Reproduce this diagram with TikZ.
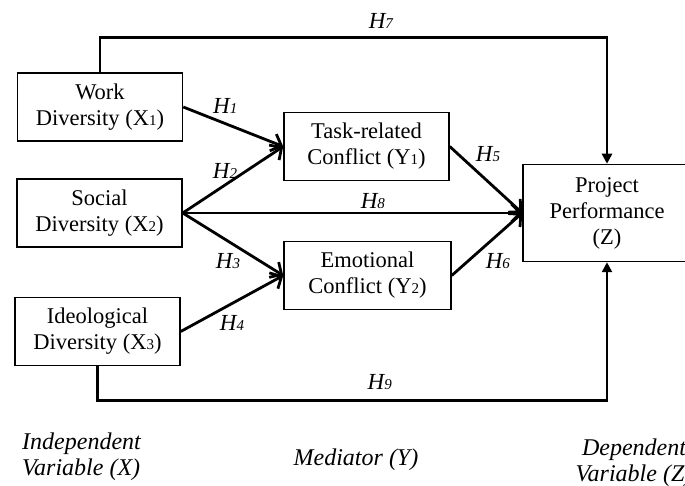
\documentclass[tikz,border=0pt]{standalone}
\usepackage{fontspec}
\setmainfont{Liberation Serif}
\usetikzlibrary{arrows.meta}
\tikzset{
	var/.style={draw, rectangle, line width=1.5pt, inner sep=2pt, align=center, minimum width=165pt, minimum height=68pt, font=\fontsize{22.5}{26}\selectfont},
	hyp/.style={font=\fontsize{23}{23}\selectfont\itshape, inner sep=3pt},
	% legend under the columns
	level/.style={font=\fontsize{24}{26}\selectfont\itshape, inner sep=0pt},
}
\newcommand{\dg}[1]{{\fontsize{15}{15}\selectfont #1}}

\begin{document}
\begin{tikzpicture}[x=1pt, y=-1pt]
\useasboundingbox (0,0) rectangle (685,486);

\node (x1) [var] at (100,107) {Work\\Diversity (X\dg{1})};
\node (x2) [var] at (99.5,213) {Social\\Diversity (X\dg{2})};
\node (x3) [var] at (97.5,331.5) {Ideological\\Diversity (X\dg{3})};

\node (y1) [var] at (366.5,146.5) {Task-related\\Conflict (Y\dg{1})};
\node (y2) [var, minimum width=167pt] at (367.5,275.5) {Emotional\\Conflict (Y\dg{2})};

\node (z) [var, minimum width=168pt, minimum height=97pt] at (607,213) {Project\\Performance\\(Z)};

\node (indep) [level, align=left, anchor=west] at (22,457) {Independent\\Variable (X)};
\node (med) [level] at (356,460) {Mediator (Y)};
\node (dep) [level, align=center] at (634,463) {Dependent\\Variable (Z)};

\begin{scope}[line width=2.8pt, -{Straight Barb[length=9pt, width=18pt]}]
	\draw (x1.east) -- (y1.west) node [hyp, pos=0.42, above, yshift=6pt] {H\dg{1}};
	\draw (x2.east) -- (y1.west) node [hyp, pos=0.42, above, yshift=2pt] {H\dg{2}};
	\draw (x2.east) -- (z.west) node [hyp, pos=0.56, above] {H\dg{8}};
	\draw (x2.east) -- (y2.west) node [hyp, pos=0.45, below, yshift=-8pt] {H\dg{3}};
	\draw (x3.east) -- (y2.west) node [hyp, pos=0.5, below, yshift=-8pt] {H\dg{4}};
	\draw (y1.east) -- (z.west) node [hyp, pos=0.3, above right] {H\dg{5}};
	\draw (y2.east) -- (z.west) node [hyp, pos=0.42, below right] {H\dg{6}};
\end{scope}

\begin{scope}[line width=2.8pt, -{Triangle[length=10pt, width=10pt]}]
	\draw (x1.north) -- ++(0,-35) -| (z.north) node [hyp, pos=0.277, above, yshift=4pt] {H\dg{7}};
	\draw (x3.south) -- ++(0,34) -| (z.south) node [hyp, pos=0.277, above, yshift=6pt] {H\dg{9}};
\end{scope}
\end{tikzpicture}
\end{document}
